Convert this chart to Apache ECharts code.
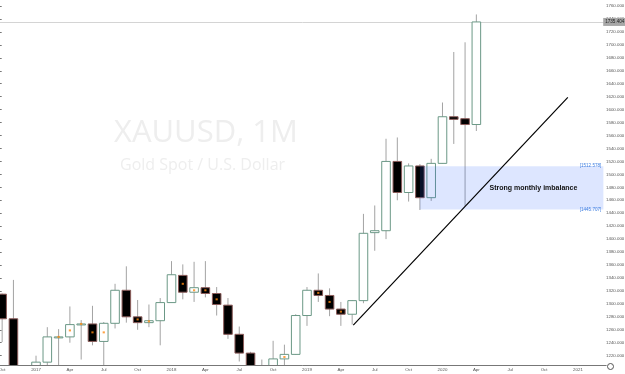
<!DOCTYPE html>
<html>
<head>
<meta charset="utf-8">
<script src="https://cdn.jsdelivr.net/npm/echarts@6/dist/echarts.min.js"></script>
<style>
  html, body { margin: 0; padding: 0; background: #fff; }
  #chart { width: 625px; height: 374px; }
</style>
</head>
<body>
<div id="chart"></div>
<script>
// monthly XAUUSD, Oct 2016 .. Mar 2021 (empty months on the right)
const months = [
  'Oct 2016', 'Nov 2016', 'Dec 2016',
  'Jan 2017', 'Feb 2017', 'Mar 2017', 'Apr 2017', 'May 2017', 'Jun 2017', 'Jul 2017', 'Aug 2017', 'Sep 2017', 'Oct 2017', 'Nov 2017', 'Dec 2017',
  'Jan 2018', 'Feb 2018', 'Mar 2018', 'Apr 2018', 'May 2018', 'Jun 2018', 'Jul 2018', 'Aug 2018', 'Sep 2018', 'Oct 2018', 'Nov 2018', 'Dec 2018',
  'Jan 2019', 'Feb 2019', 'Mar 2019', 'Apr 2019', 'May 2019', 'Jun 2019', 'Jul 2019', 'Aug 2019', 'Sep 2019', 'Oct 2019', 'Nov 2019', 'Dec 2019',
  'Jan 2020', 'Feb 2020', 'Mar 2020', 'Apr 2020', 'May 2020', 'Jun 2020', 'Jul 2020', 'Aug 2020', 'Sep 2020', 'Oct 2020', 'Nov 2020', 'Dec 2020',
  'Jan 2021', 'Feb 2021', 'Mar 2021'
]

const opens = [
  1315, 1277, 1173,
  1151, 1210, 1249, 1249, 1268, 1269, 1242, 1270, 1321, 1280, 1271, 1274,
  1302, 1344, 1318, 1325, 1316, 1298, 1253, 1224, 1201, 1192, 1215, 1222,
  1282, 1321, 1313, 1292, 1284, 1305, 1410, 1413, 1520, 1472, 1513, 1464,
  1517, 1589, 1586, 1577
]
const closes = [
  1277, 1173, 1151,
  1210, 1249, 1249, 1268, 1269, 1242, 1270, 1321, 1280, 1271, 1274, 1302,
  1345, 1318, 1325, 1316, 1299, 1253, 1224, 1201, 1192, 1215, 1222, 1282,
  1321, 1313, 1292, 1284, 1305, 1409, 1413, 1520, 1472, 1513, 1464, 1517,
  1589, 1585, 1577, 1735.404
]
const lows = [
  1241, 1171, 1122,
  1146, 1180, 1195, 1240, 1214, 1236, 1205, 1262, 1271, 1260, 1264, 1236,
  1302, 1307, 1303, 1310, 1282, 1246, 1211, 1160, 1180, 1182, 1196, 1221,
  1266, 1303, 1281, 1266, 1268, 1301, 1382, 1400, 1460, 1458, 1445, 1459,
  1517, 1547, 1451, 1567
]
const highs = [
  1316, 1337, 1182,
  1220, 1264, 1261, 1296, 1275, 1297, 1272, 1331, 1358, 1306, 1299, 1309,
  1366, 1361, 1365, 1366, 1326, 1309, 1265, 1226, 1214, 1243, 1237, 1284,
  1326, 1347, 1324, 1303, 1306, 1439, 1452, 1555, 1557, 1517, 1516, 1524,
  1611, 1689, 1704, 1747
]

// small orange markers sitting in some candle bodies
const dots = [
  ['Mar 2017', 1249], ['Apr 2017', 1259], ['May 2017', 1269], ['Jun 2017', 1256], ['Jul 2017', 1256],
  ['Oct 2017', 1276], ['Nov 2017', 1273], ['Feb 2018', 1331], ['Mar 2018', 1321], ['Apr 2018', 1321],
  ['May 2018', 1307], ['Nov 2018', 1218], ['Feb 2019', 1317], ['Mar 2019', 1303], ['Apr 2019', 1288]
]

const lastPrice = 1735.404
const zoneTop = 1512.578
const zoneBottom = 1445.707
// trend line ends, in month-band units (band i runs from i to i+1)
const trendLine = [[31.6, 1267.3], [50.6, 1619]]
const zoneFrom = 37.5
const zoneTo = 53.75

const candleRows = opens.map((o, i) => [i, o, closes[i], lows[i], highs[i]])

const chart = echarts.init(document.getElementById('chart'))

const renderCandle = (params, api) => {
  const idx = api.value(0)
  const o = api.value(1)
  const c = api.value(2)
  const pOpen = api.coord([idx, o])
  const pClose = api.coord([idx, c])
  const pLow = api.coord([idx, api.value(3)])
  const pHigh = api.coord([idx, api.value(4)])
  const w = api.size([1, 0])[0] * 0.76
  const x = pOpen[0]
  const top = Math.min(pOpen[1], pClose[1])
  const h = Math.max(Math.abs(pOpen[1] - pClose[1]), 1)
  const up = c >= o
  return {
    type: 'group',
    children: [
      {
        type: 'line',
        shape: { x1: x, y1: pHigh[1], x2: x, y2: pLow[1] },
        style: { stroke: '#a3a3a3', lineWidth: 1 }
      },
      {
        type: 'rect',
        shape: { x: x - w / 2, y: top, width: w, height: h },
        style: {
          fill: up ? '#ffffff' : '#000000',
          stroke: up ? '#6b9886' : '#8c5c5a',
          lineWidth: 1
        }
      }
    ]
  }
}

const option = {
  animation: false,
  backgroundColor: '#fff',
  graphic: [
    {
      type: 'text', left: 114, top: 118, z: 0, silent: true,
      style: { text: 'XAUUSD, 1M', fontSize: 31, fontFamily: 'Open Sans', fill: '#eeeeee' }
    },
    {
      type: 'text', left: 120, top: 157, z: 0, silent: true,
      style: { text: 'Gold Spot / U.S. Dollar', fontSize: 16, fontFamily: 'Open Sans', fill: '#eeeeee' }
    },
    {
      type: 'circle', right: 9, bottom: 2, silent: true,
      shape: { r: 3 },
      style: { fill: 'none', stroke: '#555', lineWidth: 1 }
    }
  ],
  grid: {
    left: -3.5,
    right: 18.8,
    top: 0,
    bottom: 9,
    outerBoundsMode: 'none'
  },
  xAxis: [
    {
      type: 'category',
      data: months,
      boundaryGap: true,
      axisLine: { lineStyle: { color: '#777', width: 1 } },
      axisTick: { show: false },
      splitLine: { show: false },
      axisLabel: {
        interval: (i) => i % 3 === 0,
        formatter: (v) => v.startsWith('Jan') ? v.slice(4) : v.slice(0, 3),
        fontSize: 4.4,
        fontFamily: 'Liberation Sans',
        color: '#555',
        margin: 3,
        hideOverlap: false
      }
    },
    {
      type: 'value',
      min: 0,
      max: months.length,
      show: false
    }
  ],
  yAxis: {
    type: 'value',
    position: 'right',
    offset: -3.2,
    min: 1205.6,
    max: 1769.3,
    splitNumber: 28,
    axisLine: { show: true, lineStyle: { color: '#777', width: 1 } },
    axisTick: { show: true, length: 2, lineStyle: { color: '#777' } },
    splitLine: { show: false },
    axisLabel: {
      fontSize: 4.4,
      fontFamily: 'Liberation Sans',
      color: '#555',
      margin: 3,
      showMinLabel: false,
      showMaxLabel: false,
      formatter: (v) => v.toFixed(3)
    }
  },
  series: [
    {
      name: 'XAUUSD',
      type: 'custom',
      data: candleRows,
      clip: true,
      z: 3,
      encode: { x: 0, y: [1, 2, 3, 4] },
      renderItem: renderCandle
    },
    {
      name: 'dots',
      type: 'scatter',
      data: dots,
      symbol: 'rect',
      symbolSize: [2.2, 2],
      z: 4,
      itemStyle: { color: '#ff8a12' }
    },
    {
      name: 'trend',
      type: 'line',
      xAxisIndex: 1,
      data: trendLine,
      symbol: 'none',
      z: 6,
      silent: true,
      lineStyle: { color: '#000', width: 1.2 },
      markLine: {
        silent: true,
        symbol: ['none', 'none'],
        z: 2,
        lineStyle: { color: '#d4d4d4', type: 'solid', width: 1 },
        label: {
          position: 'end',
          formatter: String(lastPrice),
          backgroundColor: '#a8a8a8',
          color: '#222',
          fontSize: 4.6,
          fontFamily: 'Liberation Sans',
          padding: [1.5, 2],
          distance: -3
        },
        data: [{ yAxis: lastPrice }]
      },
      markArea: {
        silent: true,
        z: 5,
        itemStyle: { color: 'rgba(41, 98, 255, 0.16)' },
        label: {
          show: true,
          position: 'insideRight',
          distance: 26,
          formatter: 'Strong monthly imbalance',
          fontSize: 7,
          fontWeight: 'bold',
          fontFamily: 'Liberation Sans',
          color: '#111'
        },
        data: [[{ coord: [zoneFrom, zoneTop] }, { coord: [zoneTo, zoneBottom] }]]
      },
      markPoint: {
        silent: true,
        symbol: 'rect',
        symbolSize: 0,
        z: 6,
        label: {
          show: true,
          position: 'left',
          distance: 2,
          formatter: (p) => '[' + p.value + ']',
          fontSize: 4.6,
          fontFamily: 'Liberation Sans',
          color: '#3f7fe0'
        },
        data: [
          { coord: [zoneTo, zoneTop], value: zoneTop.toFixed(3) },
          { coord: [zoneTo, zoneBottom], value: zoneBottom.toFixed(3) }
        ]
      }
    }
  ]
}

chart.setOption(option)
</script>
</body>
</html>
